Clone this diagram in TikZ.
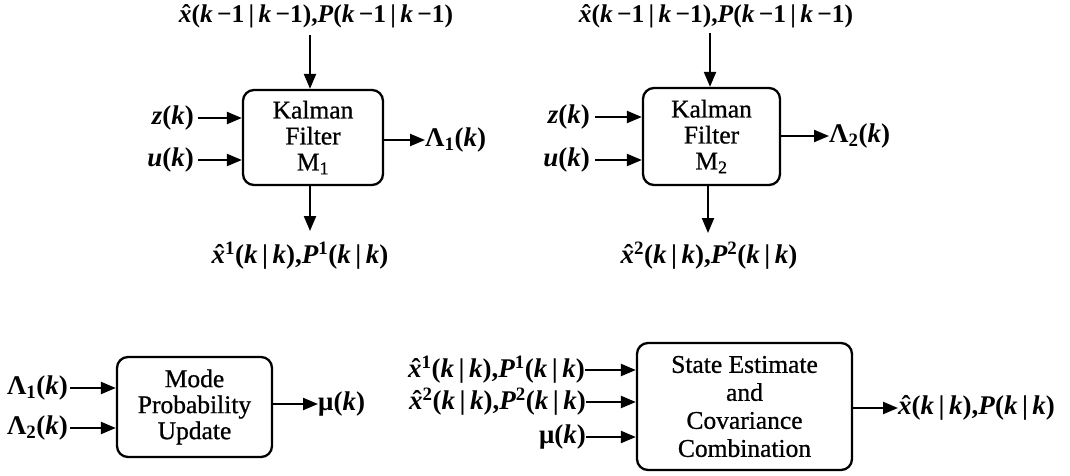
\documentclass[tikz,border=0pt]{standalone}
\usepackage{fontspec}
\setmainfont{Liberation Serif}
\newfontfamily\boxfont[FakeBold=0.8]{Liberation Serif}
\usetikzlibrary{arrows.meta}
\newcommand\vi[1]{\textit{#1}}
\newcommand\xh{\makebox[0pt][l]{\hspace{0.13em}ˆ}\textit{x}}
\tikzset{
  blk/.style={draw, line width=2.3pt, rounded corners=11pt, align=center, inner sep=0pt,
              font=\boxfont\fontsize{25.5}{26}\selectfont},
  lbl/.style={inner sep=0pt, font=\fontsize{27}{27}\selectfont\bfseries},
  tlbl/.style={inner sep=0pt, font=\fontsize{25.5}{25}\selectfont\bfseries},
  arr/.style={line width=2.2pt, -{Triangle[length=15pt,width=12pt]}}
}
\begin{document}
\begin{tikzpicture}[x=1pt,y=-1pt]
\useasboundingbox (0,0) rectangle (1070,476);
% Kalman filter 1
\node[blk, minimum width=140pt, minimum height=95pt] (k1) at (313,137.5) {Kalman\\Filter\\M\textsubscript{1}};
\node[tlbl] (t1) at (316,16) {\xh(\vi{k}\,−1\,|\,\vi{k}\,−1),\vi{P}(\vi{k}\,−1\,|\,\vi{k}\,−1)};
\node[lbl, anchor=east] (z1) at (194,118) {\vi{z}(\vi{k})};
\node[lbl, anchor=east] (u1) at (194,160) {\vi{u}(\vi{k})};
\node[lbl, anchor=west] (l1) at (425,140) {Λ\textsubscript{1}(\vi{k})};
\node[lbl] (b1) at (300,256) {\xh\textsuperscript{1}(\vi{k}\,|\,\vi{k}),\vi{P}\textsuperscript{1}(\vi{k}\,|\,\vi{k})};
\coordinate (t1a) at (310,35);
\coordinate (b1a) at (310,231);
\draw[arr] (t1a) -- (t1a |- k1.north);
\draw[arr] (z1.east) ++(4,0) -- (k1.west |- z1.east);
\draw[arr] (u1.east) ++(4,0) -- (k1.west |- u1.east);
\draw[arr] (k1.east |- l1.west) -- (l1.west);
\draw[arr] (b1a |- k1.south) -- (b1a);
% Kalman filter 2
\node[blk, minimum width=137pt, minimum height=97pt] (k2) at (711.5,136.5) {Kalman\\Filter\\M\textsubscript{2}};
\node[tlbl] (t2) at (716,16) {\xh(\vi{k}\,−1\,|\,\vi{k}\,−1),\vi{P}(\vi{k}\,−1\,|\,\vi{k}\,−1)};
\node[lbl, anchor=east] (z2) at (590,117) {\vi{z}(\vi{k})};
\node[lbl, anchor=east] (u2) at (590,160) {\vi{u}(\vi{k})};
\node[lbl, anchor=west] (l2) at (829,136) {Λ\textsubscript{2}(\vi{k})};
\node[lbl] (b2) at (709,256) {\xh\textsuperscript{2}(\vi{k}\,|\,\vi{k}),\vi{P}\textsuperscript{2}(\vi{k}\,|\,\vi{k})};
\coordinate (t2a) at (710,33);
\coordinate (b2a) at (708,233);
\draw[arr] (t2a) -- (t2a |- k2.north);
\draw[arr] (z2.east) ++(5,0) -- (k2.west |- z2.east);
\draw[arr] (u2.east) ++(5,0) -- (k2.west |- u2.east);
\draw[arr] (k2.east |- l2.west) -- (l2.west);
\draw[arr] (b2a |- k2.south) -- (b2a);
% Mode probability update
\node[blk, minimum width=155pt, minimum height=100pt] (mp) at (194.5,407) {Mode\\Probability\\Update};
\node[lbl, anchor=east] (m1) at (68,388) {Λ\textsubscript{1}(\vi{k})};
\node[lbl, anchor=east] (m2) at (68,428) {Λ\textsubscript{2}(\vi{k})};
\node[lbl, anchor=west] (mu) at (318,404) {μ(\vi{k})};
\draw[arr] (m1.east) ++(2,0) -- (mp.west |- m1.east);
\draw[arr] (m2.east) ++(2,0) -- (mp.west |- m2.east);
\draw[arr] (mp.east |- mu.west) -- (mu.west);
% State estimate and covariance combination
\node[blk, minimum width=215pt, minimum height=127pt, font=\boxfont\fontsize{25.5}{28}\selectfont] (sc) at (744.5,406.5) {State Estimate\\and\\Covariance\\Combination};
\node[lbl, anchor=east] (s1) at (585,370) {\xh\textsuperscript{1}(\vi{k}\,|\,\vi{k}),\vi{P}\textsuperscript{1}(\vi{k}\,|\,\vi{k})};
\node[lbl, anchor=east] (s2) at (586,402) {\xh\textsuperscript{2}(\vi{k}\,|\,\vi{k}),\vi{P}\textsuperscript{2}(\vi{k}\,|\,\vi{k})};
\node[lbl, anchor=east] (s3) at (586,437) {μ(\vi{k})};
\node[lbl, anchor=west] (so) at (898,408) {\xh(\vi{k}\,|\,\vi{k}),\vi{P}(\vi{k}\,|\,\vi{k})};
\draw[arr] (s1.east) -- (sc.west |- s1.east);
\draw[arr] (s2.east) -- (sc.west |- s2.east);
\draw[arr] (s3.east) -- (sc.west |- s3.east);
\draw[arr] (sc.east |- so.west) -- (so.west);
\end{tikzpicture}
\end{document}
